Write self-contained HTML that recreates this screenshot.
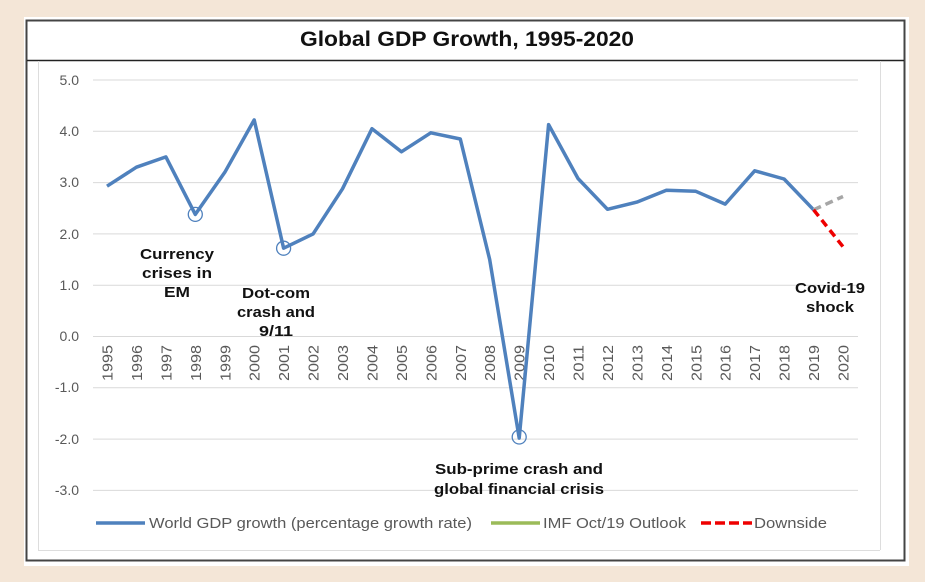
<!DOCTYPE html>
<html><head><style>
body{margin:0;width:925px;height:582px;background:#f4e6d7;overflow:hidden}
svg{position:absolute;left:0;top:0}
</style></head><body>
<svg width="925" height="582" xmlns="http://www.w3.org/2000/svg" font-family="Liberation Sans, Arial, sans-serif">
<rect x="24" y="17" width="885" height="549" fill="#fff"/>
<rect x="26.5" y="20.5" width="878" height="540" fill="#fff" stroke="#444" stroke-width="2"/>
<line x1="27" y1="60.5" x2="904" y2="60.5" stroke="#222" stroke-width="1.5"/>
<line x1="38.5" y1="61" x2="38.5" y2="550" stroke="#ddd"/>
<line x1="38" y1="550.5" x2="880" y2="550.5" stroke="#ddd"/>
<line x1="880.5" y1="61" x2="880.5" y2="550" stroke="#ddd"/>
<text x="300" y="46" font-size="21" font-weight="bold" fill="#111" textLength="334" lengthAdjust="spacingAndGlyphs">Global GDP Growth, 1995-2020</text>
<g stroke="#d9d9d9" stroke-width="1">
<line x1="93" y1="80" x2="858" y2="80"/><line x1="93" y1="131.3" x2="858" y2="131.3"/>
<line x1="93" y1="182.6" x2="858" y2="182.6"/><line x1="93" y1="233.9" x2="858" y2="233.9"/>
<line x1="93" y1="285.2" x2="858" y2="285.2"/><line x1="93" y1="336.5" x2="858" y2="336.5"/>
<line x1="93" y1="387.8" x2="858" y2="387.8"/><line x1="93" y1="439.1" x2="858" y2="439.1"/>
<line x1="93" y1="490.4" x2="858" y2="490.4"/>
</g>
<g font-size="14" fill="#595959" text-anchor="end">
<text x="79" y="85">5.0</text><text x="79" y="136">4.0</text><text x="79" y="187">3.0</text>
<text x="79" y="239">2.0</text><text x="79" y="290">1.0</text><text x="79" y="341">0.0</text>
<text x="79" y="392">-1.0</text><text x="79" y="444">-2.0</text><text x="79" y="495">-3.0</text>
</g>
<g font-size="15" fill="#595959" text-anchor="end">
<text transform="translate(112.5,345) rotate(-90)" textLength="36" lengthAdjust="spacingAndGlyphs">1995</text>
<text transform="translate(141.9,345) rotate(-90)" textLength="36" lengthAdjust="spacingAndGlyphs">1996</text>
<text transform="translate(171.4,345) rotate(-90)" textLength="36" lengthAdjust="spacingAndGlyphs">1997</text>
<text transform="translate(200.8,345) rotate(-90)" textLength="36" lengthAdjust="spacingAndGlyphs">1998</text>
<text transform="translate(230.3,345) rotate(-90)" textLength="36" lengthAdjust="spacingAndGlyphs">1999</text>
<text transform="translate(259.7,345) rotate(-90)" textLength="36" lengthAdjust="spacingAndGlyphs">2000</text>
<text transform="translate(289.1,345) rotate(-90)" textLength="36" lengthAdjust="spacingAndGlyphs">2001</text>
<text transform="translate(318.6,345) rotate(-90)" textLength="36" lengthAdjust="spacingAndGlyphs">2002</text>
<text transform="translate(348,345) rotate(-90)" textLength="36" lengthAdjust="spacingAndGlyphs">2003</text>
<text transform="translate(377.5,345) rotate(-90)" textLength="36" lengthAdjust="spacingAndGlyphs">2004</text>
<text transform="translate(406.9,345) rotate(-90)" textLength="36" lengthAdjust="spacingAndGlyphs">2005</text>
<text transform="translate(436.3,345) rotate(-90)" textLength="36" lengthAdjust="spacingAndGlyphs">2006</text>
<text transform="translate(465.8,345) rotate(-90)" textLength="36" lengthAdjust="spacingAndGlyphs">2007</text>
<text transform="translate(495.2,345) rotate(-90)" textLength="36" lengthAdjust="spacingAndGlyphs">2008</text>
<text transform="translate(524.7,345) rotate(-90)" textLength="36" lengthAdjust="spacingAndGlyphs">2009</text>
<text transform="translate(554.1,345) rotate(-90)" textLength="36" lengthAdjust="spacingAndGlyphs">2010</text>
<text transform="translate(583.5,345) rotate(-90)" textLength="36" lengthAdjust="spacingAndGlyphs">2011</text>
<text transform="translate(613,345) rotate(-90)" textLength="36" lengthAdjust="spacingAndGlyphs">2012</text>
<text transform="translate(642.4,345) rotate(-90)" textLength="36" lengthAdjust="spacingAndGlyphs">2013</text>
<text transform="translate(671.9,345) rotate(-90)" textLength="36" lengthAdjust="spacingAndGlyphs">2014</text>
<text transform="translate(701.3,345) rotate(-90)" textLength="36" lengthAdjust="spacingAndGlyphs">2015</text>
<text transform="translate(730.7,345) rotate(-90)" textLength="36" lengthAdjust="spacingAndGlyphs">2016</text>
<text transform="translate(760.2,345) rotate(-90)" textLength="36" lengthAdjust="spacingAndGlyphs">2017</text>
<text transform="translate(789.6,345) rotate(-90)" textLength="36" lengthAdjust="spacingAndGlyphs">2018</text>
<text transform="translate(819.1,345) rotate(-90)" textLength="36" lengthAdjust="spacingAndGlyphs">2019</text>
<text transform="translate(848.5,345) rotate(-90)" textLength="36" lengthAdjust="spacingAndGlyphs">2020</text>
</g>
<polyline fill="none" stroke="#4f81bd" stroke-width="3.5" stroke-linejoin="round" points="
107,186.2 136.4,167.2 165.9,156.9 195.3,214.4 224.8,172.3 254.2,119.9 283.6,248.2 313.1,233.9 342.5,188.8 372,128.7 401.4,151.8 430.8,132.8 460.3,139 489.7,259.6 519.2,438.1 548.6,124.6 578,178.5 607.5,209.3 636.9,202.1 666.4,190.3 695.8,191.3 725.2,204.1 754.7,170.8 784.1,179 813.6,209.8"/>
<line x1="813.6" y1="209.8" x2="843" y2="196.5" stroke="#a6a6a6" stroke-width="3.5" stroke-dasharray="8,5"/>
<line x1="813.6" y1="209.8" x2="843" y2="246.7" stroke="#e00" stroke-width="3.5" stroke-dasharray="8,5"/>
<g fill="none" stroke="#4f81bd" stroke-width="1.3">
<circle cx="195.3" cy="214.4" r="7"/><circle cx="283.6" cy="248.2" r="7"/><circle cx="519.2" cy="437" r="7"/>
</g>
<g font-size="15" font-weight="bold" fill="#111" text-anchor="middle">
<text x="177" y="259" textLength="74" lengthAdjust="spacingAndGlyphs">Currency</text>
<text x="177" y="278" textLength="70" lengthAdjust="spacingAndGlyphs">crises in</text>
<text x="177" y="297" textLength="26" lengthAdjust="spacingAndGlyphs">EM</text>
<text x="276" y="298" textLength="68" lengthAdjust="spacingAndGlyphs">Dot-com</text>
<text x="276" y="317" textLength="78" lengthAdjust="spacingAndGlyphs">crash and</text>
<text x="276" y="336" textLength="34" lengthAdjust="spacingAndGlyphs">9/11</text>
<text x="519" y="474" textLength="168" lengthAdjust="spacingAndGlyphs">Sub-prime  crash and</text>
<text x="519" y="494" textLength="170" lengthAdjust="spacingAndGlyphs">global financial crisis</text>
<text x="830" y="293" textLength="70" lengthAdjust="spacingAndGlyphs">Covid-19</text>
<text x="830" y="312" textLength="48" lengthAdjust="spacingAndGlyphs">shock</text>
</g>
<g font-size="15" fill="#595959">
<line x1="96" y1="523" x2="145" y2="523" stroke="#4f81bd" stroke-width="3.5"/>
<text x="149" y="528" textLength="323" lengthAdjust="spacingAndGlyphs">World GDP growth (percentage growth rate)</text>
<line x1="491" y1="523" x2="540" y2="523" stroke="#9bbb59" stroke-width="3.5"/>
<text x="543" y="528" textLength="143" lengthAdjust="spacingAndGlyphs">IMF Oct/19 Outlook</text>
<line x1="701" y1="523" x2="752" y2="523" stroke="#e00" stroke-width="3.5" stroke-dasharray="10,4"/>
<text x="754" y="528" textLength="73" lengthAdjust="spacingAndGlyphs">Downside</text>
</g>
</svg>
</body></html>
